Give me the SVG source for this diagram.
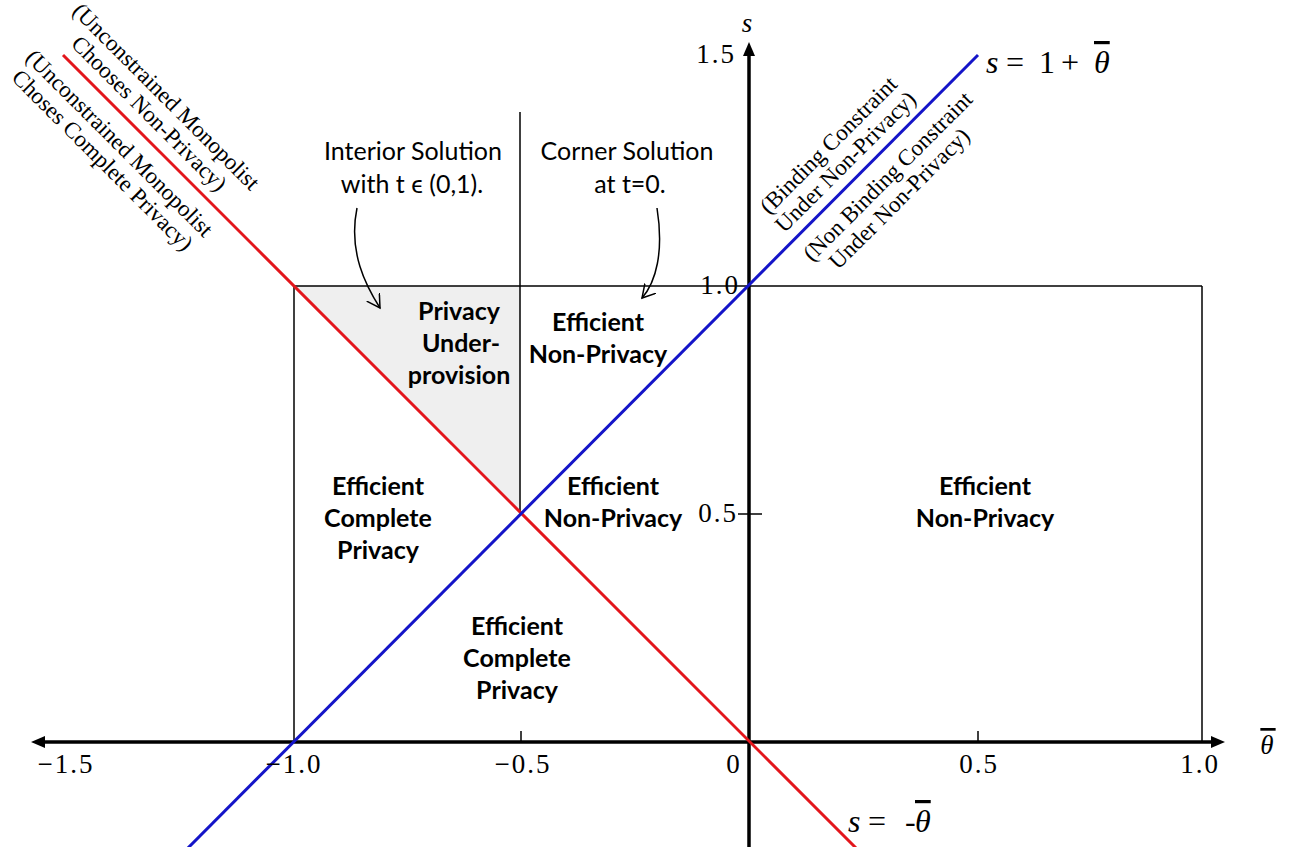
<svg xmlns="http://www.w3.org/2000/svg" width="1298" height="847" viewBox="0 0 1298 847">
<defs>
<marker id="axisHead" viewBox="0 0 14 12" refX="0" refY="6" markerWidth="14" markerHeight="12" markerUnits="userSpaceOnUse" orient="auto-start-reverse">
<path d="M0,0 L14,6 L0,12 z" fill="#000"/>
</marker>
<marker id="openHead" viewBox="0 0 16 16" refX="13" refY="7.5" markerWidth="16" markerHeight="16" markerUnits="userSpaceOnUse" orient="auto">
<path d="M0,0 L13,7.5 L0,15" fill="none" stroke="#000" stroke-width="1.5"/>
</marker>
</defs>
<style>
.thin{stroke:#000;stroke-width:1.5;fill:none}
.axis{stroke:#000;stroke-width:3.5;fill:none}
.red{stroke:#e3161c;stroke-width:3;fill:none}
.blue{stroke:#1414c8;stroke-width:3;fill:none}
.tick{font-family:"Liberation Serif","Times New Roman",serif;font-size:27px;letter-spacing:2px;fill:#000}
.math{font-family:"Liberation Serif","Times New Roman",serif;font-size:32px;fill:#000}
.it{font-style:italic}
.bar{text-decoration:overline}
.rot{font-family:"Liberation Serif","Times New Roman",serif;font-size:23px;fill:#000;text-anchor:middle}
.reg{font-family:Lato,"Open Sans",sans-serif;font-size:25px;font-weight:bold;fill:#000;text-anchor:middle}
.ann{font-family:Lato,"Open Sans",sans-serif;font-size:25px;fill:#000;text-anchor:middle}
.arrow{stroke:#000;stroke-width:1.5;fill:none;marker-end:url(#openHead)}
</style>
<rect width="1298" height="847" fill="#fff"/>

<g id="shaded-region">
<polygon points="294,286 520,286 520,513" fill="#efefef"/>
</g>

<g id="connectors">
<line class="thin" x1="294" y1="286" x2="294" y2="742"/>
<line class="thin" x1="294" y1="286" x2="1202" y2="286"/>
<line class="thin" x1="1202" y1="286" x2="1202" y2="742"/>
<line class="thin" x1="520" y1="112" x2="520" y2="513"/>
<line class="thin" x1="521" y1="731" x2="521" y2="742"/>
<line class="thin" x1="978" y1="731" x2="978" y2="742"/>
<line class="thin" x1="738" y1="514" x2="762" y2="514"/>
<line class="axis" x1="45" y1="742" x2="1211" y2="742" marker-start="url(#axisHead)" marker-end="url(#axisHead)"/>
<line class="axis" x1="749" y1="847" x2="749" y2="56" marker-end="url(#axisHead)"/>
<line class="red" x1="63" y1="55" x2="856" y2="848"/>
<line class="blue" x1="978" y1="55" x2="180" y2="856"/>
<path class="arrow" d="M357,208 C348,252 366,286 380,308"/>
<path class="arrow" d="M657,208 C664,252 656,282 642,298"/>
</g>

<g id="axis-labels">
<text class="tick" x="66" y="773" text-anchor="middle">−1.5</text>
<text class="tick" x="294" y="773" text-anchor="middle">−1.0</text>
<text class="tick" x="523" y="773" text-anchor="middle">−0.5</text>
<text class="tick" x="734" y="773" text-anchor="middle">0</text>
<text class="tick" x="979" y="773" text-anchor="middle">0.5</text>
<text class="tick" x="1200" y="773" text-anchor="middle">1.0</text>
<text class="tick" x="1268" y="754" text-anchor="middle"><tspan class="it bar">θ</tspan></text>
<text class="tick" x="736" y="63" text-anchor="end">1.5</text>
<text class="tick" x="740" y="294" text-anchor="end">1.0</text>
<text class="tick" x="738" y="522" text-anchor="end">0.5</text>
<text class="tick it" x="748" y="32" text-anchor="middle">s</text>
</g>

<g id="eq-blue">
<text class="math"><tspan class="it" x="986" y="73">s</tspan><tspan x="1006" y="73">=</tspan><tspan x="1039" y="73">1</tspan><tspan x="1061" y="73">+</tspan><tspan class="it bar" x="1094" y="73">θ</tspan></text>
</g>
<g id="eq-red">
<text class="math"><tspan class="it" x="848" y="832">s</tspan><tspan x="868" y="832">=</tspan><tspan x="905" y="832">-</tspan><tspan class="it bar" x="915" y="832">θ</tspan></text>
</g>

<g id="label-red-above">
<text class="rot" transform="translate(160.8,101.8) rotate(45)">(Unconstrained Monopolist</text>
<text class="rot" transform="translate(143.8,118.8) rotate(45)">Chooses Non-Privacy)</text>
</g>
<g id="label-red-below">
<text class="rot" transform="translate(114.1,148.5) rotate(45)">(Unconstrained Monopolist</text>
<text class="rot" transform="translate(97.1,165.5) rotate(45)">Choses Complete Privacy)</text>
</g>
<g id="label-blue-above">
<text class="rot" transform="translate(833.8,150.3) rotate(-45)">(Binding Constraint</text>
<text class="rot" transform="translate(850.8,167.2) rotate(-45)">Under Non-Privacy)</text>
</g>
<g id="label-blue-below">
<text class="rot" transform="translate(893,181.6) rotate(-45)">(Non Binding Constraint</text>
<text class="rot" transform="translate(904.6,204) rotate(-45)">Under Non-Privacy)</text>
</g>

<g id="note-interior">
<text class="ann" x="413" y="160">Interior Solution</text>
<text class="ann" x="412" y="193">with t ϵ (0,1).</text>
</g>
<g id="note-corner">
<text class="ann" x="627" y="160">Corner Solution</text>
<text class="ann" x="630" y="193">at t=0.</text>
</g>

<g id="region-underprovision">
<text class="reg" x="459" y="320">Privacy</text>
<text class="reg" x="461" y="352">Under-</text>
<text class="reg" x="459" y="384">provision</text>
</g>
<g id="region-top-nonprivacy">
<text class="reg" x="598" y="331">Efficient</text>
<text class="reg" x="598" y="363">Non-Privacy</text>
</g>
<g id="region-left-complete">
<text class="reg" x="378" y="495">Efficient</text>
<text class="reg" x="378" y="527">Complete</text>
<text class="reg" x="378" y="559">Privacy</text>
</g>
<g id="region-mid-nonprivacy">
<text class="reg" x="613" y="495">Efficient</text>
<text class="reg" x="613" y="527">Non-Privacy</text>
</g>
<g id="region-bottom-complete">
<text class="reg" x="517" y="635">Efficient</text>
<text class="reg" x="517" y="667">Complete</text>
<text class="reg" x="517" y="699">Privacy</text>
</g>
<g id="region-right-nonprivacy">
<text class="reg" x="985" y="495">Efficient</text>
<text class="reg" x="985" y="527">Non-Privacy</text>
</g>
</svg>
